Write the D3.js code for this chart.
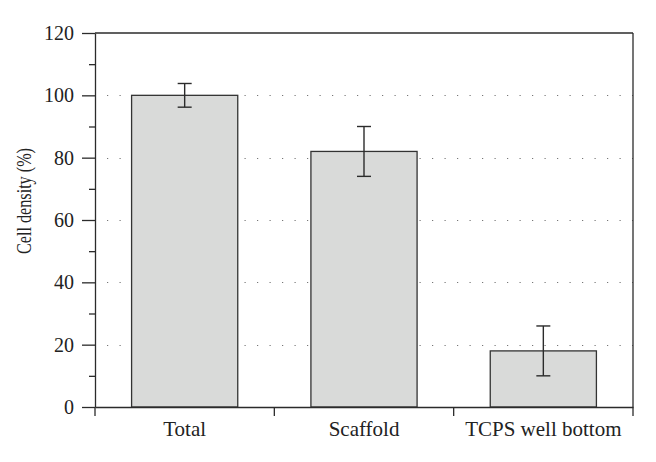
<!DOCTYPE html>
<html><head><meta charset="utf-8">
<script src="https://cdn.jsdelivr.net/npm/d3@7"></script>
<style>body{margin:0;background:#fff}svg{display:block}</style>
</head><body>
<script>
const categories = ["Total", "Scaffold", "TCPS well bottom"];
const values = [100, 82, 18];
const errors = [3.8, 8, 8];
const yTicks = [0, 20, 40, 60, 80, 100, 120];
const yMinorTicks = [10, 30, 50, 70, 90, 110];
const gridValues = [20, 40, 60, 80, 100];

const W = 656, H = 462;
const m = {left: 95, right: 23, top: 33, bottom: 55};
const svg = d3.select("body").append("svg").attr("width", W).attr("height", H);
const font = "'Liberation Serif', 'DejaVu Serif', serif";
const ink = "#2b2b2b";

const x = d3.scaleBand().domain(categories).range([m.left, W - m.right])
  .paddingInner(0.408).paddingOuter(0.204);
const y = d3.scaleLinear().domain([0, 120]).range([H - m.bottom, m.top]);

// gridlines
svg.append("g").selectAll("line").data(gridValues).join("line")
  .attr("x1", m.left + 12).attr("x2", W - m.right)
  .attr("y1", d => Math.round(y(d)) + 0.5).attr("y2", d => Math.round(y(d)) + 0.5)
  .attr("stroke", "#777").attr("stroke-width", 1.2)
  .attr("stroke-dasharray", "1.2,11.3");

// bars
svg.append("g").selectAll("rect").data(categories).join("rect")
  .attr("x", d => x(d)).attr("width", x.bandwidth())
  .attr("y", (d, i) => y(values[i])).attr("height", (d, i) => y(0) - y(values[i]))
  .attr("fill", "#d9dad9").attr("stroke", "#333").attr("stroke-width", 1.3);

// error bars
const eg = svg.append("g").attr("stroke", ink).attr("stroke-width", 1.4);
categories.forEach((c, i) => {
  const cx = x(c) + x.bandwidth() / 2;
  eg.append("line").attr("x1", cx).attr("x2", cx)
    .attr("y1", y(values[i] + errors[i])).attr("y2", y(values[i] - errors[i]));
  [values[i] + errors[i], values[i] - errors[i]].forEach(v => {
    eg.append("line").attr("x1", cx - 7).attr("x2", cx + 7)
      .attr("y1", y(v)).attr("y2", y(v));
  });
});

// frame top & right
svg.append("line").attr("x1", m.left).attr("x2", W - m.right)
  .attr("y1", m.top).attr("y2", m.top).attr("stroke", ink).attr("stroke-width", 1.3);
svg.append("line").attr("x1", W - m.right).attr("x2", W - m.right)
  .attr("y1", m.top).attr("y2", y(0)).attr("stroke", ink).attr("stroke-width", 1.3);

// y axis
const yAxis = svg.append("g").attr("transform", `translate(${m.left},0)`)
  .call(d3.axisLeft(y).tickValues(yTicks).tickSize(13).tickPadding(8).tickSizeOuter(0));
yAxis.select(".domain").attr("stroke", ink).attr("stroke-width", 1.3);
yAxis.selectAll(".tick line").attr("stroke", ink).attr("stroke-width", 1.3);
yAxis.selectAll("text").attr("font-family", font).attr("font-size", 20).attr("fill", "#222");
svg.append("g").attr("transform", `translate(${m.left},0)`)
  .call(d3.axisLeft(y).tickValues(yMinorTicks).tickSize(6).tickFormat(""))
  .call(g => g.select(".domain").remove())
  .selectAll("line").attr("stroke", ink).attr("stroke-width", 1.3);

// x axis
const xAxis = svg.append("g").attr("transform", `translate(0,${y(0)})`)
  .call(d3.axisBottom(x).tickSize(0).tickPadding(14).tickSizeOuter(0));
xAxis.select(".domain").attr("stroke", ink).attr("stroke-width", 1.3);
xAxis.selectAll("text").attr("font-family", font).attr("font-size", 21).attr("fill", "#222");
const bounds = [m.left, ...categories.slice(1).map(c => x(c) - x.step() * x.paddingInner() / 2), W - m.right];
svg.append("g").selectAll("line").data(bounds).join("line")
  .attr("x1", d => d).attr("x2", d => d).attr("y1", y(0)).attr("y2", y(0) + 9)
  .attr("stroke", ink).attr("stroke-width", 1.3);

// y label
svg.append("text").attr("transform", `translate(31,201) rotate(-90)`)
  .attr("text-anchor", "middle").attr("font-family", font).attr("font-size", 20).attr("fill", "#222")
  .attr("textLength", 106).attr("lengthAdjust", "spacingAndGlyphs")
  .text("Cell density (%)");
</script>
</body></html>
